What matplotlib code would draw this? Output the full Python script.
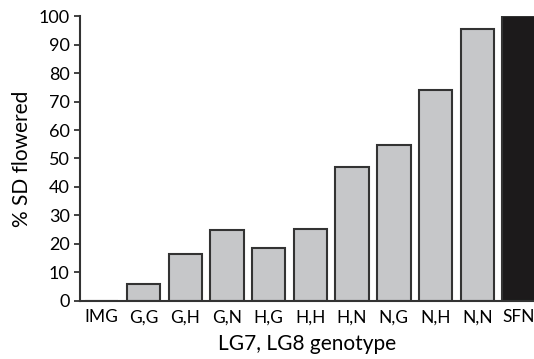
import matplotlib.pyplot as plt

genotypes = ['IMG', 'G,G', 'G,H', 'G,N', 'H,G', 'H,H', 'H,N', 'N,G', 'N,H', 'N,N', 'SFN']
pct_flowered = [0, 6, 16.5, 25, 18.5, 25.4, 47, 54.7, 73.9, 95.6, 100]
yticks = list(range(0, 101, 10))

plt.rcParams['font.family'] = ['Lato', 'DejaVu Sans']

colors = ['#c6c7c9'] * (len(genotypes) - 1) + ['#1c1a1b']

fig = plt.figure(figsize=(5.34, 3.59), dpi=100)
ax = fig.add_axes([0.15, 0.162, 0.85, 0.793])

ax.bar(range(len(genotypes)), pct_flowered, width=0.8, color=colors,
       edgecolor='#333333', linewidth=1.5)

ax.set_xlim(-0.52, 10.36)
ax.set_ylim(0, 100)
ax.set_yticks(yticks)
ax.set_xticks(range(len(genotypes)))
ax.set_xticklabels(genotypes)
ax.tick_params(axis='x', length=0, labelsize=12.5, pad=6)
ax.tick_params(axis='y', length=4, width=1.3, color='#333333', labelsize=13)

for s in ['top', 'right']:
    ax.spines[s].set_visible(False)
for s in ['left', 'bottom']:
    ax.spines[s].set_linewidth(1.5)
    ax.spines[s].set_color('#333333')

ax.set_ylabel('% SD flowered', fontsize=15, labelpad=5)
ax.set_xlabel('LG7, LG8 genotype', fontsize=15, labelpad=6)

fig.savefig('out.png', dpi=100)
